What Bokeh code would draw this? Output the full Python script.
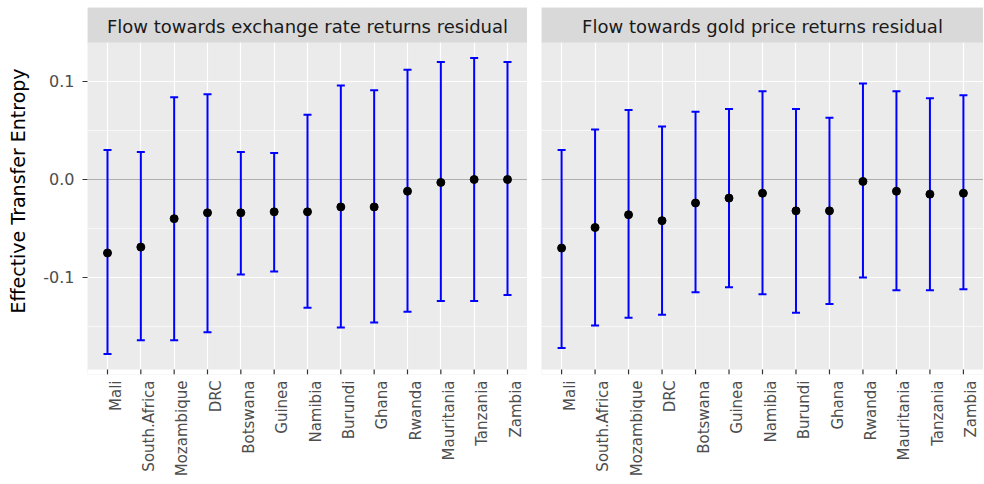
import math
from bokeh.plotting import figure
from bokeh.models import (ColumnDataSource, Whisker, TeeHead, FixedTicker, Range1d,
                          BoxAnnotation, Span, LinearAxis, LinearScale, PrintfTickFormatter)
from bokeh.layouts import row
from bokeh.embed import file_html
from bokeh.resources import INLINE
from bokeh.core.properties import value

# ---------------- data ----------------
countries = ["Mali", "South.Africa", "Mozambique", "DRC", "Botswana", "Guinea", "Namibia",
             "Burundi", "Ghana", "Rwanda", "Mauritania", "Tanzania", "Zambia"]

fx_est = [-0.075, -0.069, -0.040, -0.034, -0.034, -0.033, -0.033, -0.028, -0.028, -0.012, -0.003, 0.000, 0.000]
fx_hi = [0.030, 0.028, 0.084, 0.087, 0.028, 0.027, 0.066, 0.096, 0.091, 0.112, 0.120, 0.124, 0.120]
fx_lo = [-0.178, -0.164, -0.164, -0.156, -0.097, -0.094, -0.131, -0.151, -0.146, -0.135, -0.124, -0.124, -0.118]

gold_est = [-0.070, -0.049, -0.036, -0.042, -0.024, -0.019, -0.014, -0.032, -0.032, -0.002, -0.012, -0.015, -0.014]
gold_hi = [0.030, 0.051, 0.071, 0.054, 0.069, 0.072, 0.090, 0.072, 0.063, 0.098, 0.090, 0.083, 0.086]
gold_lo = [-0.172, -0.149, -0.141, -0.138, -0.115, -0.110, -0.117, -0.136, -0.127, -0.100, -0.113, -0.113, -0.112]

panel_titles = ["Flow towards exchange rate returns residual", "Flow towards gold price returns residual"]
y_title = "Effective Transfer Entropy"
y_ticks = [-0.1, 0.0, 0.1]
y_minor = [-0.15, -0.05, 0.05]

# ---------------- style / layout ----------------
FONT = "DejaVu Sans"
PANEL_BOTTOM = -0.1939     # bottom edge of the grey panel
FRAME_BOTTOM = -0.1990     # a few px lower: room for the x tick marks
FRAME_TOP = 0.1755
STRIP_BOTTOM = 0.1398
STRIP_TEXT_Y = 0.1565
EXPAND = 0.6               # ggplot discrete expansion, in category units
LABEL_SHIFT = 0.24         # labels sit slightly right of their tick, as in ggplot

n = len(countries)
xpos = [i + 1 for i in range(n)]          # discrete positions of the categories
y_range = Range1d(FRAME_BOTTOM, FRAME_TOP)


def make_panel(est, lo, hi, title, show_y, frame_width, border_left):
    p = figure(x_range=Range1d(1 - EXPAND, n + EXPAND), y_range=y_range,
               frame_width=frame_width, frame_height=367, x_axis_location=None,
               output_backend="svg", toolbar_location=None,
               min_border_top=7, min_border_right=0, min_border_bottom=0,
               min_border_left=border_left)
    p.background_fill_color = "#EBEBEB"
    p.border_fill_color = "white"
    p.outline_line_color = None

    xticker = FixedTicker(ticks=xpos, minor_ticks=[])
    yticker = FixedTicker(ticks=y_ticks, minor_ticks=y_minor)
    p.xgrid.ticker = xticker
    p.yaxis.ticker = yticker
    p.ygrid.ticker = yticker
    p.xgrid.grid_line_color = "white"
    p.xgrid.grid_line_width = 1.2
    p.ygrid.grid_line_color = "white"
    p.ygrid.grid_line_width = 1.2
    p.ygrid.minor_grid_line_color = "white"
    p.ygrid.minor_grid_line_width = 0.6

    # strip header
    p.add_layout(BoxAnnotation(bottom=STRIP_BOTTOM, fill_color="#D9D9D9", fill_alpha=1.0,
                               line_alpha=0.0, level="underlay"))
    p.text(x=[(1 + n) / 2], y=[STRIP_TEXT_Y], text=[title], text_align="center",
           text_baseline="middle", text_font=value(FONT), text_font_size="18px",
           text_color="#1A1A1A")

    # white band under the panel that carries the x tick marks
    p.add_layout(BoxAnnotation(top=PANEL_BOTTOM, fill_color="white", fill_alpha=1.0,
                               line_alpha=0.0, level="underlay"))
    p.segment(x0=xpos, y0=[PANEL_BOTTOM] * n, x1=xpos, y1=[FRAME_BOTTOM] * n,
              line_color="#333333", line_width=1.2)

    # zero line
    p.add_layout(Span(location=0, dimension="width", line_color="#ADADAD", line_width=1.2,
                      level="underlay"))

    src = ColumnDataSource(dict(x=xpos, country=countries, est=est, lo=lo, hi=hi))
    p.add_layout(Whisker(source=src, base="x", upper="hi", lower="lo", dimension="height",
                         line_color="#0000FF", line_width=2, level="underlay",
                         upper_head=TeeHead(size=8, line_color="#0000FF", line_width=2),
                         lower_head=TeeHead(size=8, line_color="#0000FF", line_width=2)))
    p.scatter("x", "est", source=src, size=8, color="black")

    # x labels (shifted slightly right of the ticks, like ggplot's rotated labels)
    p.extra_x_ranges = {"labels": Range1d(1 - EXPAND - LABEL_SHIFT, n + EXPAND - LABEL_SHIFT)}
    p.extra_x_scales = {"labels": LinearScale()}
    la = LinearAxis(x_range_name="labels",
                    ticker=FixedTicker(ticks=xpos, minor_ticks=[]),
                    major_label_overrides={x: c for x, c in zip(xpos, countries)},
                    major_label_orientation=math.pi / 2,
                    axis_line_color=None, major_tick_line_color=None, minor_tick_line_color=None,
                    major_tick_out=0, major_tick_in=0, minor_tick_out=0, minor_tick_in=0,
                    major_label_standoff=6,
                    major_label_text_font=FONT, major_label_text_font_size="15px",
                    major_label_text_color="#4D4D4D")
    p.add_layout(la, "below")

    ya = p.yaxis[0]
    if show_y:
        ya.formatter = PrintfTickFormatter(format="%.1f")
        ya.axis_line_color = None
        ya.major_tick_out = 5
        ya.major_tick_in = 0
        ya.major_tick_line_color = "#333333"
        ya.minor_tick_line_color = None
        ya.major_label_standoff = 8
        ya.major_label_text_font = FONT
        ya.major_label_text_font_size = "16px"
        ya.major_label_text_color = "#4D4D4D"
        ya.axis_label = y_title
        ya.axis_label_text_font = FONT
        ya.axis_label_text_font_size = "19px"
        ya.axis_label_text_font_style = "normal"
        ya.axis_label_text_color = "black"
        ya.axis_label_standoff = 11
    else:
        ya.visible = False
    return p


p1 = make_panel(fx_est, fx_lo, fx_hi, panel_titles[0], True, 440, 87)
p2 = make_panel(gold_est, gold_lo, gold_hi, panel_titles[1], False, 442, 14)

layout = row(p1, p2)
open("out.html", "w").write(file_html(layout, INLINE))
